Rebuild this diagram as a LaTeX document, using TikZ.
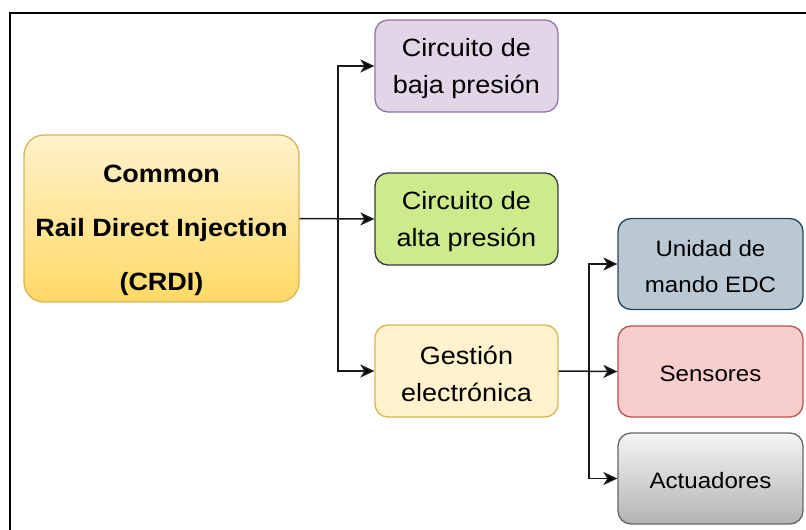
\documentclass[tikz,border=0pt]{standalone}
\usepackage{fontspec}
\setmainfont{Liberation Sans}[FakeStretch=1.08]
\usetikzlibrary{arrows.meta}
\definecolor{yelS}{HTML}{D6B656}
\definecolor{yelT}{HTML}{FFF2CC}
\definecolor{yelB}{HTML}{FFD966}
\definecolor{purF}{HTML}{E1D5E7}
\definecolor{purS}{HTML}{9673A6}
\definecolor{grnF}{HTML}{CDEB8B}
\definecolor{grnS}{HTML}{36393D}
\definecolor{bluF}{HTML}{BAC8D3}
\definecolor{bluS}{HTML}{23445D}
\definecolor{redF}{HTML}{F8CECC}
\definecolor{redS}{HTML}{B85450}
\definecolor{gryT}{HTML}{F5F5F5}
\definecolor{gryB}{HTML}{B3B3B3}
\definecolor{gryS}{HTML}{666666}
\newcommand{\upr}{\rule{0pt}{24pt}}
\newcommand{\upq}{\rule{0pt}{21pt}}
\tikzset{
  box/.style={draw, line width=1.3pt, rounded corners=13pt, align=center,
    minimum width=183pt, minimum height=92pt, inner sep=0pt,
    font=\fontsize{25}{37}\selectfont},
  rbox/.style={box, minimum width=185pt, minimum height=91pt,
    font=\fontsize{22.3}{36}\selectfont},
  conn/.style={line width=1.5pt, draw=black!90, -{Stealth[length=14pt,width=13pt,inset=4pt,fill=black]}},
  plain/.style={line width=1.5pt, draw=black!90}
}
\begin{document}
\begin{tikzpicture}[x=1pt,y=-1pt]
\useasboundingbox (0,0) rectangle (806,530);
\clip (0,0) rectangle (806,530);
\fill[white] (0,0) rectangle (806,530);
\draw[line width=1.5pt] (10,13) rectangle (840,560);
% main box
\node[draw=yelS, line width=1.3pt, rounded corners=20pt, top color=yelT, bottom color=yelB,
  minimum width=275pt, minimum height=167pt, inner sep=0pt] (crdi) at (161.5,218.5) {};
\node[align=center, font=\bfseries\fontsize{25}{54}\selectfont] (crditxt) at (161.5,230)
  {Common\\Rail Direct Injection\\(CRDI)};
% middle column
\node[box, draw=purS, fill=purF] (baja) at (466.5,66) {\upr Circuito de\\baja presión};
\node[box, draw=grnS, fill=grnF] (alta) at (466.5,219) {\upr Circuito de\\alta presión};
\node[box, draw=yelS, fill=yelT] (gest) at (466.5,371) {\upr Gestión\\electrónica};
% right column
\node[rbox, draw=bluS, fill=bluF] (edc) at (710.5,264) {\upq Unidad de\\mando EDC};
\node[rbox, draw=redS, fill=redF] (sens) at (710.5,371.5) {\upq Sensores};
\node[rbox, draw=gryS, top color=gryT, bottom color=gryB] (act) at (710.5,478.5) {\upq Actuadores};
% connectors
\coordinate (j1) at (338,218.5);
\coordinate (j2) at (589,371);
\draw[conn] (crdi.east) -- (alta.west);
\draw[plain] (j1 |- baja.west) -- (j1 |- gest.west);
\draw[conn] (j1) |- (baja.west);
\draw[conn] (j1) |- (gest.west);
\draw[conn] (gest.east) -- (sens.west);
\draw[plain] (j2 |- edc.west) -- (j2 |- act.west);
\draw[conn] (j2) |- (edc.west);
\draw[conn] (j2) |- (act.west);
\end{tikzpicture}
\end{document}
